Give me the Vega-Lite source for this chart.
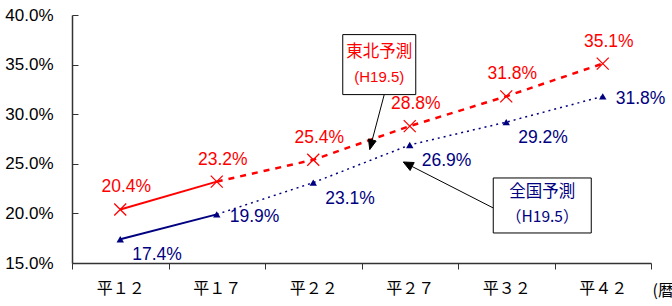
{
  "$schema": "https://vega.github.io/schema/vega-lite/v6.json",
  "width": 579,
  "height": 248,
  "autosize": "none",
  "padding": {"left": 72, "top": 15, "right": 21, "bottom": 43},
  "background": "white",
  "config": {"view": {"stroke": null}},
  "datasets": {
    "main": [
      {"year": "平１２", "region": "東北", "value": 20.4},
      {"year": "平１７", "region": "東北", "value": 23.2},
      {"year": "平２２", "region": "東北", "value": 25.4},
      {"year": "平２７", "region": "東北", "value": 28.8},
      {"year": "平３２", "region": "東北", "value": 31.8},
      {"year": "平４２", "region": "東北", "value": 35.1},
      {"year": "平１２", "region": "全国", "value": 17.4},
      {"year": "平１７", "region": "全国", "value": 19.9},
      {"year": "平２２", "region": "全国", "value": 23.1},
      {"year": "平２７", "region": "全国", "value": 26.9},
      {"year": "平３２", "region": "全国", "value": 29.2},
      {"year": "平４２", "region": "全国", "value": 31.8}
    ],
    "notes": [
      {"year": "平２７", "value": 35, "who": "東北"},
      {"year": "平３２", "value": 21, "who": "全国"}
    ]
  },
  "data": {"name": "main"},
  "encoding": {
    "x": {
      "field": "year", "type": "ordinal",
      "sort": ["平１２", "平１７", "平２２", "平２７", "平３２", "平４２"],
      "scale": {"paddingInner": 0, "paddingOuter": 0},
      "axis": {
        "title": "(暦年)", "titleX": 580, "titleY": 27, "titleAlign": "left", "titleBaseline": "middle",
        "titleFont": "Noto Sans CJK JP", "titleFontSize": 16, "titleFontWeight": "normal", "titleColor": "black",
        "labelAngle": 0, "labelFont": "Noto Sans CJK JP", "labelFontSize": 16, "labelColor": "black",
        "labelPadding": 11, "tickBand": "extent", "tickSize": 6, "tickColor": "#333", "domainColor": "#333",
        "domainWidth": 1.5, "grid": false
      }
    },
    "y": {
      "field": "value", "type": "quantitative",
      "scale": {"domain": [15, 40], "nice": false, "zero": false},
      "axis": {
        "title": null, "values": [15, 20, 25, 30, 35, 40],
        "labelExpr": "format(datum.value, '.1f') + '%'",
        "labelFont": "Liberation Sans", "labelFontSize": 17, "labelColor": "black",
        "tickSize": -6, "labelPadding": 25, "tickColor": "#333", "domainColor": "#333", "domainWidth": 1.5,
        "grid": false
      }
    }
  },
  "layer": [
    {
      "transform": [{"filter": "datum.region == '東北' && (datum.year == '平１２' || datum.year == '平１７')"}],
      "mark": {"type": "line", "color": "#FF0000", "strokeWidth": 2}
    },
    {
      "transform": [{"filter": "datum.region == '東北' && datum.year != '平１２'"}],
      "mark": {"type": "line", "color": "#FF0000", "strokeWidth": 2.5, "strokeDash": [6, 6]}
    },
    {
      "transform": [{"filter": "datum.region == '全国' && (datum.year == '平１２' || datum.year == '平１７')"}],
      "mark": {"type": "line", "color": "#000080", "strokeWidth": 2}
    },
    {
      "transform": [{"filter": "datum.region == '全国' && datum.year != '平１２'"}],
      "mark": {"type": "line", "color": "#000080", "strokeWidth": 1.5, "strokeDash": [2, 4]}
    },
    {
      "transform": [{"filter": "datum.region == '東北'"}],
      "mark": {"type": "point", "shape": "M-1,-1L1,1M-1,1L1,-1", "size": 144, "filled": false, "stroke": "#FF0000", "strokeWidth": 1.3, "opacity": 1}
    },
    {
      "transform": [{"filter": "datum.region == '全国'"}],
      "mark": {"type": "point", "shape": "triangle-up", "size": 55, "filled": true, "fill": "#000080", "stroke": null, "opacity": 1}
    },
    {
      "transform": [
        {"filter": "datum.region == '東北'"},
        {"calculate": "format(datum.value, '.1f') + '%'", "as": "label"}
      ],
      "mark": {"type": "text", "font": "Liberation Sans", "fontSize": 17.5, "color": "#FF0000", "align": "center", "baseline": "middle", "dx": 6, "dy": -22},
      "encoding": {"text": {"field": "label", "type": "nominal"}}
    },
    {
      "transform": [
        {"filter": "datum.region == '全国' && datum.year != '平１７' && datum.year != '平４２'"},
        {"calculate": "format(datum.value, '.1f') + '%'", "as": "label"}
      ],
      "mark": {"type": "text", "font": "Liberation Sans", "fontSize": 17.5, "color": "#000080", "align": "left", "baseline": "middle", "dx": 12, "dy": 16},
      "encoding": {"text": {"field": "label", "type": "nominal"}}
    },
    {
      "transform": [
        {"filter": "datum.region == '全国' && (datum.year == '平１７' || datum.year == '平４２')"},
        {"calculate": "format(datum.value, '.1f') + '%'", "as": "label"}
      ],
      "mark": {"type": "text", "font": "Liberation Sans", "fontSize": 17.5, "color": "#000080", "align": "left", "baseline": "middle", "dx": 13, "dy": 3},
      "encoding": {"text": {"field": "label", "type": "nominal"}}
    },
    {
      "data": {"name": "notes"},
      "transform": [{"filter": "datum.who == '東北'"}],
      "layer": [
        {"mark": {"type": "point", "shape": "M-25,28L-37.5,75.3M-40,85L-33.6,76.4L-41.3,74.3Z", "size": 4, "filled": true, "fill": "black", "stroke": "black", "strokeWidth": 1, "opacity": 1}},
        {"mark": {"type": "point", "shape": "M-67,-30H6V30H-67Z", "size": 4, "filled": true, "fill": "white", "stroke": "black", "strokeWidth": 1, "opacity": 1}},
        {"mark": {"type": "text", "text": "東北予測", "font": "Noto Sans CJK JP", "fontSize": 16.5, "color": "#FF0000", "align": "center", "baseline": "middle", "dx": -30.5, "dy": -13}},
        {"mark": {"type": "text", "text": "(H19.5)", "font": "Liberation Sans", "fontSize": 15, "color": "#FF0000", "align": "center", "baseline": "middle", "dx": -30.5, "dy": 12}}
      ]
    },
    {
      "data": {"name": "notes"},
      "transform": [{"filter": "datum.who == '全国'"}],
      "layer": [
        {"mark": {"type": "point", "shape": "M-13,4.5L-94.1,-36.95M-103,-41.5L-92.05,-40.95L-96.15,-32.95Z", "size": 4, "filled": true, "fill": "black", "stroke": "black", "strokeWidth": 1, "opacity": 1}},
        {"mark": {"type": "point", "shape": "M-13,-25.5H85V29.5H-13Z", "size": 4, "filled": true, "fill": "white", "stroke": "black", "strokeWidth": 1, "opacity": 1}},
        {"mark": {"type": "text", "text": "全国予測", "font": "Noto Sans CJK JP", "fontSize": 16.5, "color": "#000080", "align": "center", "baseline": "middle", "dx": 36, "dy": -11.5}},
        {"mark": {"type": "text", "text": "（H19.5）", "font": "Noto Sans CJK JP", "fontSize": 15.5, "color": "#000080", "align": "center", "baseline": "middle", "dx": 36, "dy": 13.5}}
      ]
    }
  ]
}
